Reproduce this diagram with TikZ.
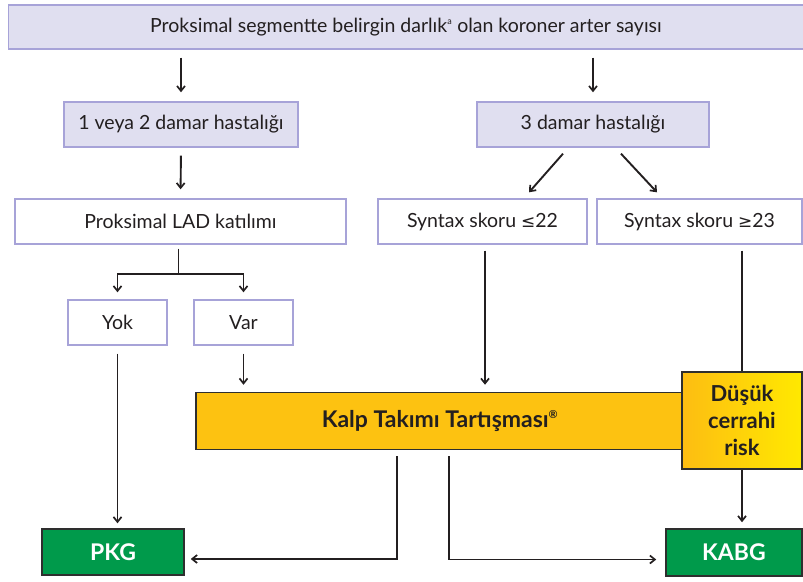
\documentclass[tikz,border=0pt]{standalone}
\usepackage{fontspec}
\setmainfont{Lato}
\newfontfamily\symbolfont{DejaVu Sans}
\usetikzlibrary{arrows.meta}

\definecolor{lavfill}{HTML}{E0DFF0}
\definecolor{lavline}{HTML}{A7A3D8}
\definecolor{teamfill}{HTML}{FDC211}
\definecolor{riskleft}{HTML}{FDBD12}
\definecolor{riskright}{HTML}{FFE900}
\definecolor{treatgreen}{HTML}{009A4B}
\definecolor{ink}{HTML}{231F20}
\definecolor{frame}{HTML}{2E2E2E}

\tikzset{
  basebox/.style={rectangle, inner sep=0pt, line width=1.4pt, text=ink,
    font=\fontsize{19.5}{22}\selectfont},
  lavbox/.style={basebox, draw=lavline, fill=lavfill},
  whitebox/.style={basebox, draw=lavline, fill=white},
  teambox/.style={basebox, draw=frame, fill=teamfill, line width=1.5pt,
    font=\bfseries\fontsize{23}{26}\selectfont},
  riskbox/.style={basebox, draw=frame, left color=riskleft, right color=riskright,
    line width=1.5pt, align=center, font=\bfseries\fontsize{22}{27}\selectfont},
  treatbox/.style={basebox, draw=frame, fill=treatgreen, text=white,
    line width=1.5pt, font=\bfseries\fontsize{23}{26}\selectfont},
  link/.style={draw=ink, line width=1.9pt},
  arr/.style={link, -{Straight Barb[length=5pt,width=8pt,line width=1.7pt]}},
}

\begin{document}
\begin{tikzpicture}[x=1pt, y=-1pt]
\useasboundingbox (0,0) rectangle (803,581);

% top row
\node[lavbox, minimum width=795pt, minimum height=44pt] (top) at (406,27)
  {Proksimal segmentte belirgin darlık\textsuperscript{\fontsize{9}{9}\selectfont a} olan koroner arter sayısı};

% disease extent
\node[lavbox, minimum width=234pt, minimum height=45pt] (one) at (181,124.5) {1 veya 2 damar hastalığı};
\node[lavbox, minimum width=232pt, minimum height=45pt] (three) at (593,124.5) {3 damar hastalığı};

% second level
\node[whitebox, minimum width=331pt, minimum height=45pt] (lad) at (180.5,221.5) {Proksimal LAD katılımı};
\node[whitebox, minimum width=209pt, minimum height=45pt] (low) at (482.5,221.5) {Syntax skoru {\symbolfont\fontsize{17}{20}\selectfont ≤}22};
\node[whitebox, minimum width=205pt, minimum height=45pt] (high) at (699.5,221.5) {Syntax skoru {\symbolfont\fontsize{17}{20}\selectfont ≥}23};

% LAD involvement
\node[whitebox, minimum width=99pt, minimum height=45pt] (yok) at (117.5,322.5) {Yok};
\node[whitebox, minimum width=99pt, minimum height=45pt] (var) at (243.5,322.5) {Var};

% heart team and surgical risk
\node[teambox, minimum width=488pt, minimum height=57pt] (team) at (440,421)
  {Kalp Takımı Tartışması\textsuperscript{\fontsize{11}{11}\selectfont ®}};
\node[riskbox, minimum width=120pt, minimum height=97pt] (risk) at (742,420.5)
  {Düşük\\cerrahi\\risk};

% treatments
\node[treatbox, minimum width=142pt, minimum height=46pt] (pkg) at (113,552) {PKG};
\node[treatbox, minimum width=136pt, minimum height=47pt] (kabg) at (734,552.5) {KABG};

% connectors
\draw[arr, shorten <=8pt, shorten >=9pt] (top.south -| one.north) -- (one.north);
\draw[arr, shorten <=8pt, shorten >=9pt] (top.south -| three.north) -- (three.north);
\draw[arr, shorten <=8pt, shorten >=9pt] (one.south) -- (lad.north);
\draw[arr] ([shift={(-30,6)}]three.south) -- ([shift={(46.5,-6)}]low.north);
\draw[arr] ([shift={(28,6)}]three.south) -- ([shift={(-42.5,-6)}]high.north);

\draw[link] ([shift={(-2,4)}]lad.south) -- ++(0,25) coordinate (split);
\draw[arr, shorten >=7pt] (split) -| (yok.north);
\draw[arr, shorten >=7pt] (split) -| (var.north);

\draw[arr, shorten <=8pt, shorten >=5pt] (yok.south) -- (yok.south |- pkg.north);
\draw[arr, shorten <=8pt, shorten >=7pt] (var.south) -- (var.south |- team.north);
\draw[arr, shorten <=6pt, shorten >=7pt] ([xshift=2.5pt]low.south) -- ([xshift=2.5pt]low.south |- team.north);
\draw[link, shorten <=6pt] (high.south -| risk.north) -- (risk.north);
\draw[arr, shorten >=6pt] (risk.south) -- (risk.south |- kabg.north);

\draw[arr, shorten <=6pt, shorten >=6pt] ([xshift=-43pt]team.south) |- ([yshift=-7pt]pkg.east);
\draw[arr, shorten <=6pt, shorten >=9pt] ([xshift=9pt]team.south) |- ([yshift=-7pt]kabg.west);
\end{tikzpicture}
\end{document}
